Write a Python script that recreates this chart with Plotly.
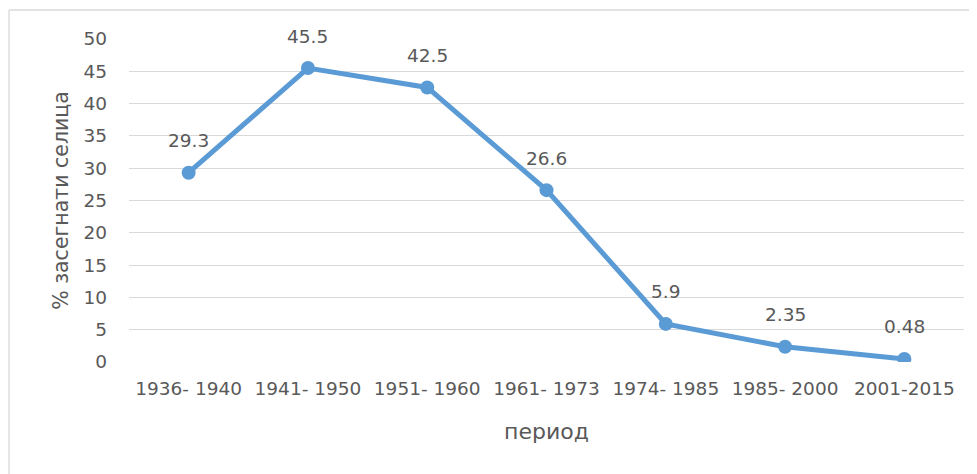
import plotly.graph_objects as go

categories = ["1936- 1940", "1941- 1950", "1951- 1960", "1961- 1973", "1974- 1985", "1985- 2000", "2001-2015"]
values = [29.3, 45.5, 42.5, 26.6, 5.9, 2.35, 0.48]
labels = ["29.3", "45.5", "42.5", "26.6", "5.9", "2.35", "0.48"]
y_ticks = [0, 5, 10, 15, 20, 25, 30, 35, 40, 45, 50]

FONT = "DejaVu Sans"
TXT = "#595959"
BLUE = "#5B9BD5"
FS = 18.5

fig = go.Figure()
fig.add_trace(go.Scatter(
    x=categories, y=values, mode="lines+markers",
    line=dict(color=BLUE, width=5),
    marker=dict(color=BLUE, size=14),
    hoverinfo="skip", showlegend=False,
))

for c, v, t in zip(categories, values, labels):
    fig.add_annotation(x=c, y=v, text=t, showarrow=False, yanchor="middle",
                       yshift=32, font=dict(family=FONT, size=FS, color=TXT))

# page body has ~7px default margin; offsets compensate for it
W, H = 977, 474
L, T = 121, 31
PW, PH = 835, 323
R, B = W - L - PW, H - T - PH
bx = (1 - L) / PW
by = (H - B - 2) / PH
fig.add_shape(type="line", xref="paper", yref="paper",
              x0=bx, x1=(W - L) / PW, y0=by, y1=by,
              line=dict(color="#D9D9D9", width=1.3), layer="below")
fig.add_shape(type="line", xref="paper", yref="paper",
              x0=bx, x1=bx, y0=-B / PH, y1=by,
              line=dict(color="#D9D9D9", width=1.3), layer="below")

fig.update_layout(
    width=W, height=H,
    margin=dict(l=L, r=R, t=T, b=B, autoexpand=False),
    paper_bgcolor="white", plot_bgcolor="white",
    font=dict(family=FONT, size=FS, color=TXT),
    xaxis=dict(type="category", showgrid=False, zeroline=False, showline=False,
               ticks="", ticklabelstandoff=13, range=[-0.5, 6.5], automargin=False,
               title=dict(text="период", font=dict(size=22, color=TXT), standoff=26),
               tickfont=dict(size=FS, color=TXT)),
    yaxis=dict(range=[0, 50], tickvals=y_ticks, showgrid=True, gridcolor="#D9D9D9",
               gridwidth=1.3, zeroline=False, showline=False, ticks="", automargin=False,
               ticklabelstandoff=21,
               title=dict(text="% засегнати селица", font=dict(size=20.5, color=TXT), standoff=9),
               tickfont=dict(size=FS, color=TXT)),
)

fig.write_html("out.html")
